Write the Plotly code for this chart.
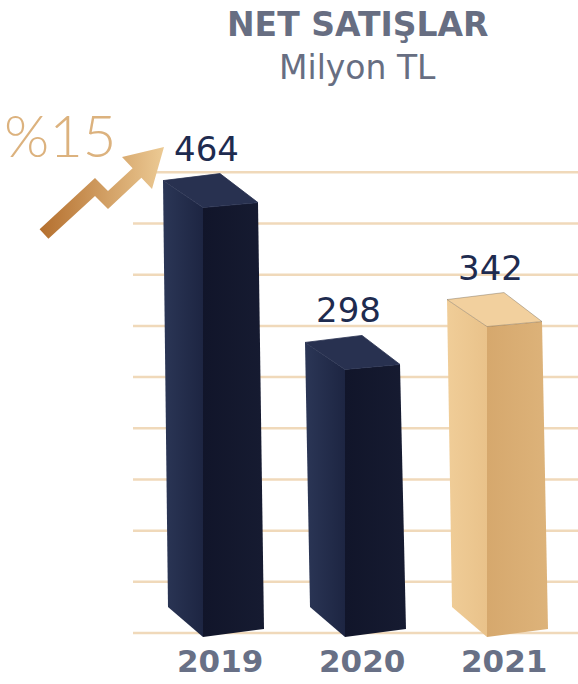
import plotly.graph_objects as go

# ---- data ----
years = ["2019", "2020", "2021"]
values = [464, 298, 342]
growth_label = "%15"
title_main = "NET SATIŞLAR"
title_sub = "Milyon TL"

# ---- styling / geometry (pixels -> data) ----
W, H = 578, 684
PX_PER_X = 142.0          # pixels per category step
X0_PX = 211.0             # pixel x of first category center
BASE_PX = 633.0           # pixel y of value 0
PX_PER_Y = 0.975          # pixels per value unit
GRID_STEP = 52.5
GRID_N = 10
GRID_LEFT_PX = 133

x_range = [-X0_PX / PX_PER_X, (W - X0_PX) / PX_PER_X]
y_range = [(BASE_PX - H) / PX_PER_Y, BASE_PX / PX_PER_Y]

def dx(px):
    return px / PX_PER_X

def dy(px):  # pixel offset downward -> data offset
    return -px / PX_PER_Y

def px2x(px):
    return (px - X0_PX) / PX_PER_X

def py2y(py):
    return (BASE_PX - py) / PX_PER_Y

navy = dict(top="#283150", left=("#2b3656", "#1d2542"), right=("#11152a", "#161b31"))
gold = dict(top="#f2d09e", left=("#f0cd98", "#e9c28a"), right=("#d6a86d", "#ddb37a"))
styles = [navy, navy, gold]

fig = go.Figure()

for i, (v, st) in enumerate(zip(values, styles)):
    c = i
    # left face
    lx = [c + dx(-48), c + dx(-8), c + dx(-8), c + dx(-43), c + dx(-48)]
    ly = [v, v + dy(27), dy(4), dy(-26), v]
    fig.add_trace(go.Scatter(
        x=lx, y=ly, mode="lines", fill="toself", line=dict(width=0, color=st["left"][1]),
        fillgradient=dict(type="horizontal", colorscale=[[0, st["left"][0]], [1, st["left"][1]]]),
        hoverinfo="skip", showlegend=False))
    # right face
    rx = [c + dx(-8), c + dx(47), c + dx(53), c + dx(-8), c + dx(-8)]
    ry = [v + dy(27), v + dy(22), dy(-4), dy(4), v + dy(27)]
    fig.add_trace(go.Scatter(
        x=rx, y=ry, mode="lines", fill="toself", line=dict(width=0, color=st["right"][1]),
        fillgradient=dict(type="horizontal", colorscale=[[0, st["right"][0]], [1, st["right"][1]]]),
        hoverinfo="skip", showlegend=False))
    # top face
    tx = [c + dx(-48), c + dx(9), c + dx(47), c + dx(-8), c + dx(-48)]
    ty = [v, v + dy(-7), v + dy(22), v + dy(27), v]
    fig.add_trace(go.Scatter(
        x=tx, y=ty, mode="lines", fill="toself", fillcolor=st["top"],
        line=dict(width=0.8, color="rgba(90,80,70,0.45)" if st is gold else st["top"]),
        hoverinfo="skip", showlegend=False))

# growth arrow (decorative)
arrow_px = [(39.6, 229.2), (95, 178), (108, 191), (132.6, 168.2), (122, 157), (164, 147),
            (152, 189), (141.4, 177.8), (108, 209), (95, 196), (48.4, 238.8), (39.6, 229.2)]
fig.add_trace(go.Scatter(
    x=[px2x(p[0]) for p in arrow_px], y=[py2y(p[1]) for p in arrow_px],
    mode="lines", fill="toself", line=dict(width=0, color="#d9ae75"),
    fillgradient=dict(type="horizontal", colorscale=[[0, "#b46f2e"], [1, "#ecca94"]]),
    hoverinfo="skip", showlegend=False))

shapes = []
for k in range(GRID_N):
    shapes.append(dict(type="line", xref="paper", yref="y", x0=GRID_LEFT_PX / W, x1=1,
                       y0=k * GRID_STEP, y1=k * GRID_STEP,
                       line=dict(color="#f0d9ba", width=2.5), layer="below"))

annotations = []
FONT = "DejaVu Sans"
for i, (yr, v) in enumerate(zip(years, values)):
    annotations.append(dict(x=i - 0.03, y=v, xref="x", yref="y", text=str(v), showarrow=False,
                            xanchor="center", yanchor="bottom", yshift=10,
                            font=dict(family=FONT, size=34, color="#1e2b4f")))
    annotations.append(dict(x=i + 0.06, y=1 - 661 / H, xref="x", yref="paper", text=yr,
                            showarrow=False, xanchor="center", yanchor="middle",
                            font=dict(family=FONT, size=31, color="#687086", weight="bold")))

annotations.append(dict(x=357 / W, y=1 - 24 / H, xref="paper", yref="paper", text=title_main,
                        showarrow=False, xanchor="center", yanchor="middle",
                        font=dict(family=FONT, size=33, color="#676e82", weight="bold")))
annotations.append(dict(x=357 / W, y=1 - 67 / H, xref="paper", yref="paper", text=title_sub,
                        showarrow=False, xanchor="center", yanchor="middle",
                        font=dict(family=FONT, size=33, color="#676e82")))
annotations.append(dict(x=60 / W, y=1 - 134 / H, xref="paper", yref="paper", text=growth_label,
                        showarrow=False, xanchor="center", yanchor="middle",
                        font=dict(family="Lato", size=58, color="#dcb27e", weight=300)))

fig.update_layout(
    width=W, height=H,
    margin=dict(l=0, r=0, t=0, b=0),
    paper_bgcolor="white", plot_bgcolor="white",
    xaxis=dict(range=x_range, visible=False, fixedrange=True),
    yaxis=dict(range=y_range, visible=False, fixedrange=True),
    shapes=shapes, annotations=annotations,
    showlegend=False, hovermode=False,
)

fig.write_html("out.html", config=dict(displayModeBar=False),
               post_script="document.body.style.margin='0px';")
